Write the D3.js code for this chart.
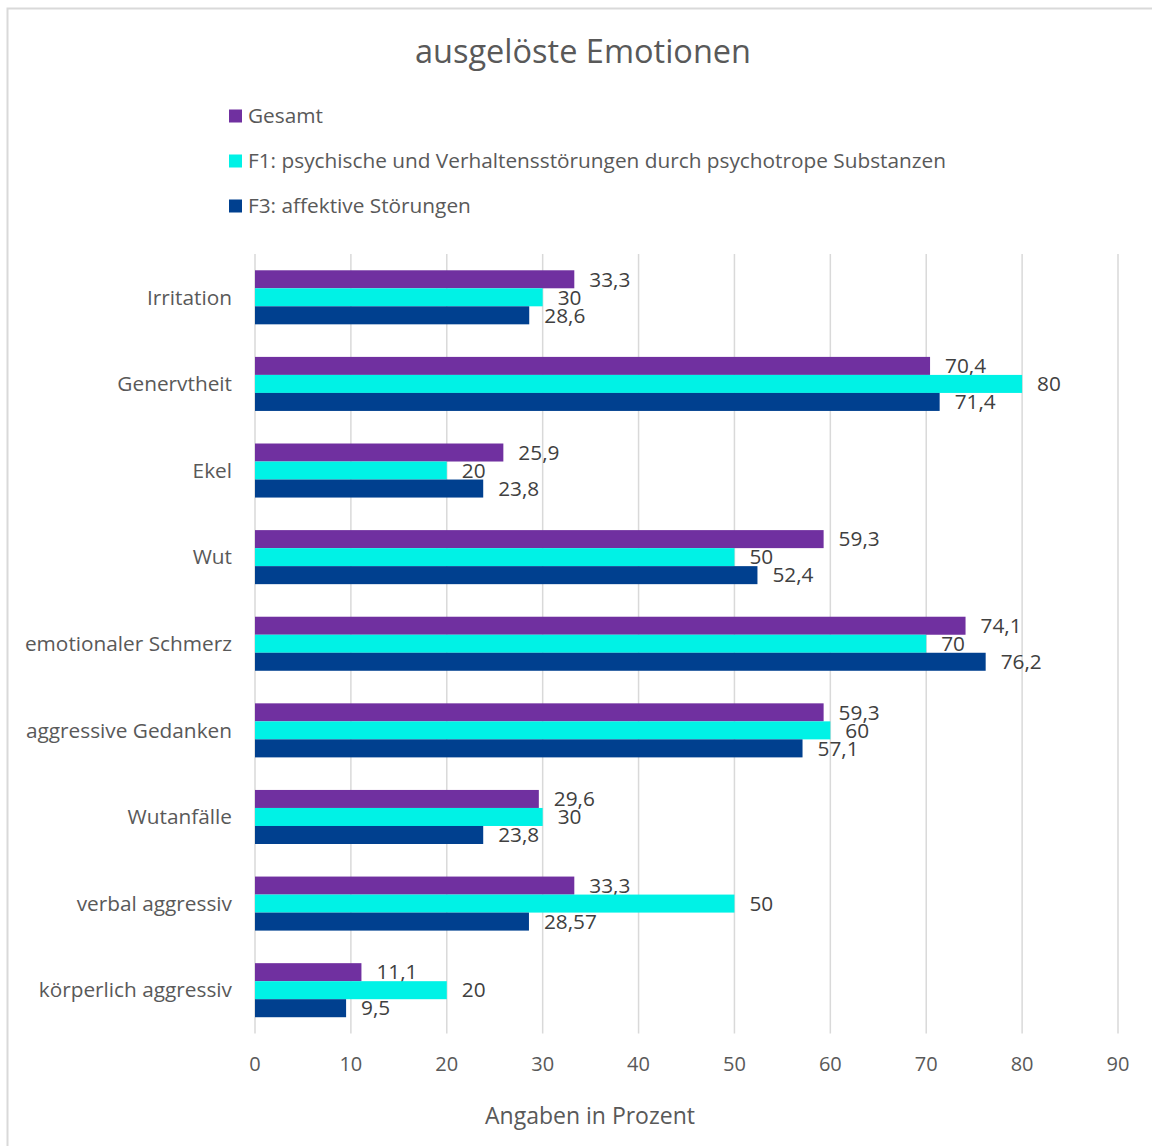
<!DOCTYPE html>
<html><head><meta charset="utf-8">
<script src="https://cdn.jsdelivr.net/npm/d3@7"></script>
<style>
body{margin:0;background:#fff;}
text{font-family:"Open Sans", Lato, sans-serif;}
</style></head>
<body><svg id="c" width="1152" height="1146"></svg>
<script>
const categories = ["Irritation","Genervtheit","Ekel","Wut","emotionaler Schmerz","aggressive Gedanken","Wutanfälle","verbal aggressiv","körperlich aggressiv"];
const seriesNames = ["Gesamt","F1: psychische und Verhaltensstörungen durch psychotrope Substanzen","F3: affektive Störungen"];
const gesamt = [33.3,70.4,25.9,59.3,74.1,59.3,29.6,33.3,11.1];
const f1 = [30,80,20,50,70,60,30,50,20];
const f3 = [28.6,71.4,23.8,52.4,76.2,57.1,23.8,28.57,9.5];
const gesamtLabels = ["33,3","70,4","25,9","59,3","74,1","59,3","29,6","33,3","11,1"];
const f1Labels = ["30","80","20","50","70","60","30","50","20"];
const f3Labels = ["28,6","71,4","23,8","52,4","76,2","57,1","23,8","28,57","9,5"];
const xTicks = [0,10,20,30,40,50,60,70,80,90];
const colors = ["#7030A0","#00F2E6","#00408F"];
const title = "ausgelöste Emotionen";
const xTitle = "Angaben in Prozent";

const svg = d3.select("#c");
svg.append("rect").attr("x",7.5).attr("y",8.5).attr("width",1160).attr("height",1160)
  .attr("fill","none").attr("stroke","#D9D9D9").attr("stroke-width",2);

const x = d3.scaleLinear().domain([0,90]).range([255,1118]);
const y = d3.scaleBand().domain(categories).range([254,1033.5]).paddingInner(0.376).paddingOuter(0.188);
const ys = d3.scaleBand().domain([0,1,2]).range([0,y.bandwidth()]);

svg.append("g").selectAll("line").data(xTicks).join("line")
  .attr("x1",d=>x(d)).attr("x2",d=>x(d)).attr("y1",254).attr("y2",1033.5)
  .attr("stroke","#D9D9D9").attr("stroke-width",1.5);

svg.append("g").selectAll("text").data(xTicks).join("text")
  .attr("x",d=>x(d)).attr("y",1071).attr("text-anchor","middle")
  .attr("font-size",20).attr("fill","#595959").text(d=>d);

svg.append("g").selectAll("text").data(categories).join("text")
  .attr("x",232).attr("y",d=>y(d)+y.bandwidth()/2).attr("dy","0.35em")
  .attr("text-anchor","end").attr("font-size",20.8).attr("fill","#595959").text(d=>d);

const series = [gesamt,f1,f3];
const labels = [gesamtLabels,f1Labels,f3Labels];
series.forEach((vals,si)=>{
  const g = svg.append("g");
  g.selectAll("rect").data(vals).join("rect")
    .attr("x",x(0)).attr("y",(d,i)=>y(categories[i])+ys(si))
    .attr("width",d=>x(d)-x(0)).attr("height",ys.bandwidth())
    .attr("fill",colors[si]);
  g.selectAll("text").data(vals).join("text")
    .attr("x",d=>x(d)+15).attr("y",(d,i)=>y(categories[i])+ys(si)+ys.bandwidth()/2).attr("dy","0.35em")
    .attr("font-size",20.8).attr("fill","#404040").text((d,i)=>labels[si][i]);
});

svg.append("text").attr("x",583).attr("y",63).attr("text-anchor","middle")
  .attr("font-size",32.5).attr("fill","#595959").text(title);

const lg = svg.append("g");
seriesNames.forEach((n,i)=>{
  const cy = 116 + i*45;
  lg.append("rect").attr("x",229).attr("y",cy-6.5).attr("width",13).attr("height",13).attr("fill",colors[i]);
  lg.append("text").attr("x",248).attr("y",cy).attr("dy","0.35em").attr("font-size",20.8).attr("fill","#595959").text(n);
});

svg.append("text").attr("x",590).attr("y",1124).attr("text-anchor","middle")
  .attr("font-size",23).attr("fill","#595959").text(xTitle);
</script></body></html>
